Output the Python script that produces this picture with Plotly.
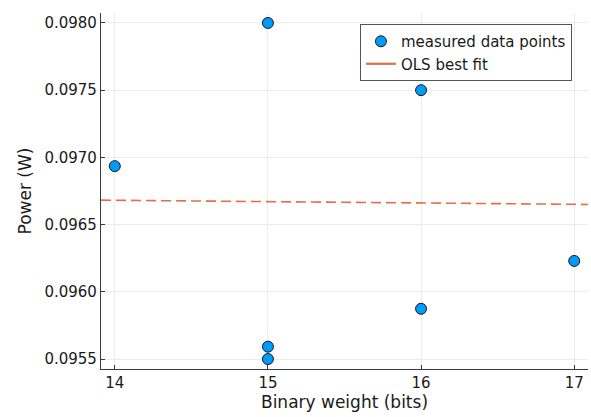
import plotly.graph_objects as go

# Measured power at each binary weight
bits = [14, 15, 15, 15, 16, 16, 17]
power_w = [0.096935, 0.09800, 0.095592, 0.095500, 0.09750, 0.095874, 0.09623]

# Ordinary least squares fit: value at 14 bits and slope per bit
fit_slope = -1.0e-5
fit_at_14 = 0.096681

x_lo, x_hi = 13.91, 17.09
y_lo, y_hi = 0.095426, 0.098074

x_ticks = [14, 15, 16, 17]
y_ticks = [0.0955, 0.0960, 0.0965, 0.0970, 0.0975, 0.0980]

blue = "#009AFA"
orange = "#E26F46"
font_family = "DejaVu Sans, sans-serif"

fig = go.Figure()

fit_x = [x_lo, x_hi]
fit_y = [fit_at_14 + fit_slope * (v - 14) for v in fit_x]

fig.add_trace(go.Scatter(
    x=bits, y=power_w, mode="markers", name="measured data points",
    marker=dict(color=blue, size=11, line=dict(color="#1a1a1a", width=1)),
))
fig.add_trace(go.Scatter(
    x=fit_x, y=fit_y, mode="lines", showlegend=False,
    line=dict(color=orange, width=1.6, dash="10px,5px"),
))
# legend entry for the fit, drawn solid
fig.add_trace(go.Scatter(
    x=[None], y=[None], mode="lines", name="OLS best fit",
    line=dict(color=orange, width=2.2),
))

axis_common = dict(
    showline=True, linecolor="#3a3a3a", linewidth=1.2, mirror=False,
    showgrid=True, gridcolor="#ececec", gridwidth=1,
    ticks="inside", ticklen=4, tickcolor="#3a3a3a",
    tickfont=dict(size=15, color="#1a1a1a", family=font_family),
    zeroline=False,
)

fig.update_layout(
    width=591, height=417,
    margin=dict(l=101, r=3, t=13, b=48),
    paper_bgcolor="white", plot_bgcolor="white",
    font=dict(family=font_family, color="#1a1a1a"),
    xaxis=dict(
        range=[x_lo, x_hi], tickvals=x_ticks, ticktext=[str(t) for t in x_ticks],
        title=dict(text="Binary weight (bits)", font=dict(size=17), standoff=5),
        **axis_common,
    ),
    yaxis=dict(
        range=[y_lo, y_hi], tickvals=y_ticks, ticktext=[f"{t:.4f}" for t in y_ticks],
        title=dict(text="Power (W)", font=dict(size=17), standoff=8),
        **axis_common,
    ),
    legend=dict(
        x=0.967, y=0.969, xanchor="right", yanchor="top",
        bgcolor="white", bordercolor="#555555", borderwidth=1,
        font=dict(size=15, color="#1a1a1a"),
        tracegroupgap=0, itemwidth=30,
    ),
)

fig.write_html("out.html")
